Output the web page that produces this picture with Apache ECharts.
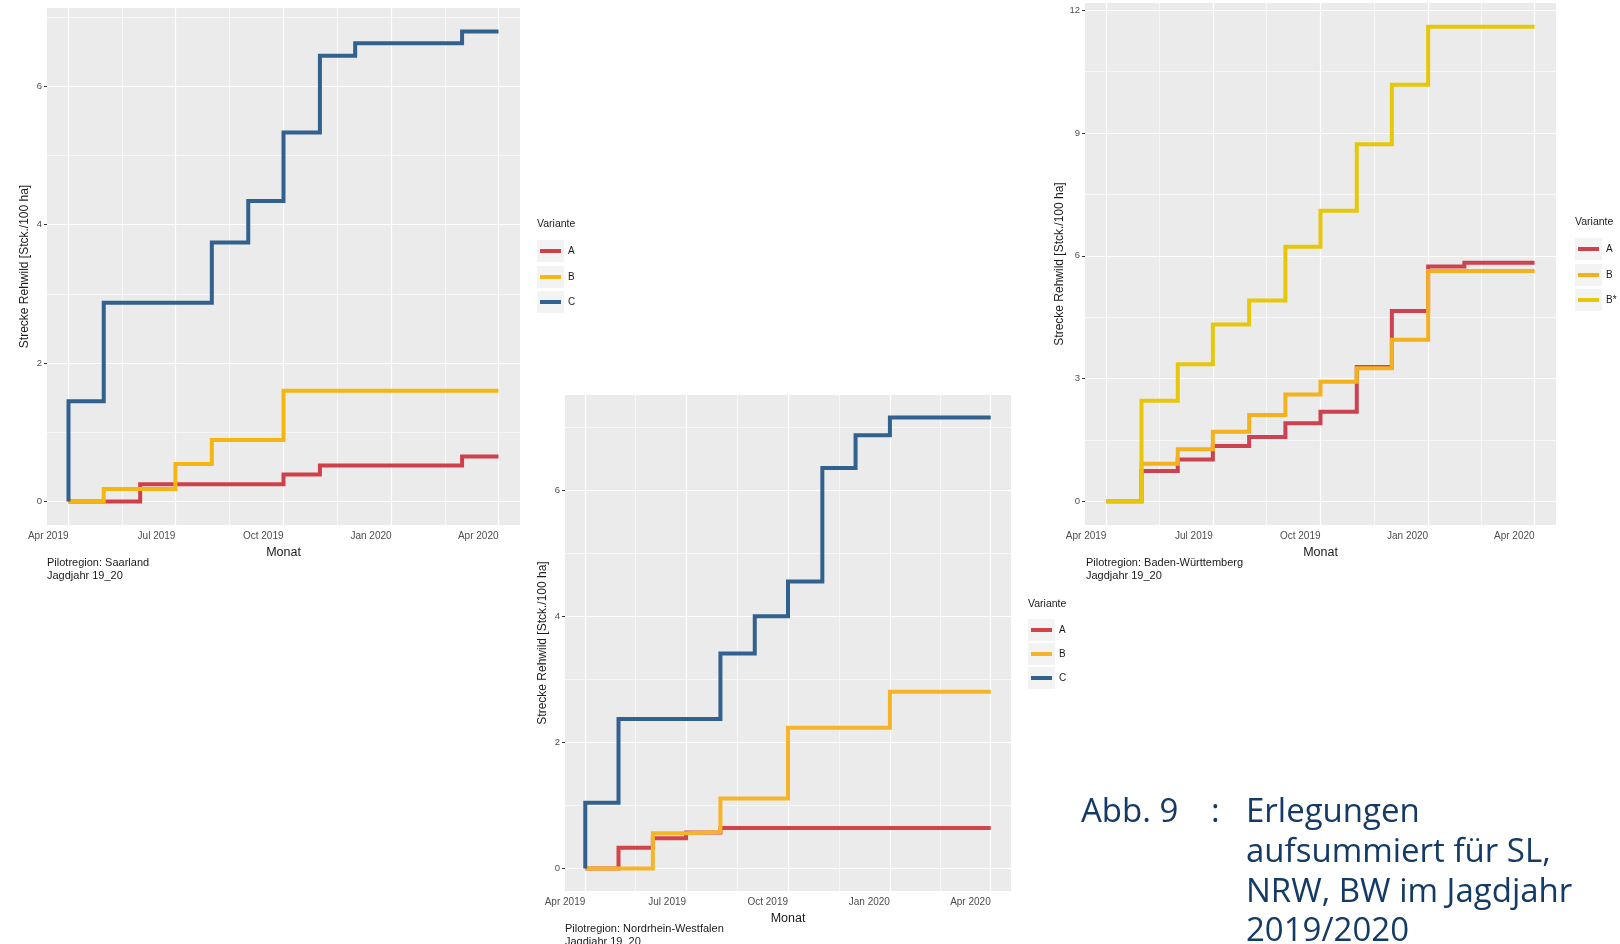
<!DOCTYPE html>
<html><head><meta charset="utf-8">
<script src="https://cdn.jsdelivr.net/npm/echarts@6/dist/echarts.min.js"></script>
<style>html,body{margin:0;padding:0;background:#fff}#c{width:1620px;height:944px}</style>
</head><body><div id="c"></div>
<script>
// ---- data ----
const stepDates = ['2019-04-01','2019-04-01','2019-05-01','2019-06-01','2019-07-01','2019-08-01','2019-09-01','2019-10-01','2019-11-01','2019-12-01','2020-01-01','2020-02-01','2020-03-01','2020-04-01'];

const slA = [0,0,0,0.25,0.25,0.25,0.25,0.39,0.52,0.52,0.52,0.52,0.65,0.65];
const slB = [0,0,0.18,0.18,0.54,0.89,0.89,1.60,1.60,1.60,1.60,1.60,1.60,1.60];
const slC = [0,1.45,2.87,2.87,2.87,3.74,4.34,5.33,6.44,6.62,6.62,6.62,6.79,6.79];

const nrwA = [0,0,0.33,0.48,0.57,0.64,0.64,0.64,0.64,0.64,0.64,0.64,0.64,0.64];
const nrwB = [0,0,0,0.56,0.58,1.11,1.11,2.23,2.23,2.23,2.80,2.80,2.80,2.80];
const nrwC = [0,1.04,2.37,2.37,2.37,3.41,4.00,4.55,6.35,6.87,7.15,7.15,7.15,7.15];

const bwA = [0,0,0.74,1.02,1.35,1.57,1.91,2.19,3.28,4.65,5.74,5.83,5.83,5.83];
const bwB = [0,0,0.92,1.27,1.70,2.11,2.61,2.92,3.25,3.95,5.63,5.63,5.63,5.63];
const bwBstar = [0,0,2.46,3.35,4.32,4.91,6.22,7.10,8.73,10.18,11.60,11.60,11.60,11.60];

const xTickDates = ['2019-04-01','2019-07-01','2019-10-01','2020-01-01','2020-04-01'];
const xTickLabels = ['Apr 2019','Jul 2019','Oct 2019','Jan 2020','Apr 2020'];
const yTicksSL = [0,2,4,6];
const yMinorSL = [1,3,5,7];
const yTicksNRW = [0,2,4,6];
const yMinorNRW = [1,3,5,7];
const yTicksBW = [0,3,6,9,12];
const yMinorBW = [1.5,4.5,7.5,10.5];

const variantsSL = ['A','B','C'];
const variantsNRW = ['A','B','C'];
const variantsBW = ['A','B','B*'];
const colorsSL = ['#d0404a','#f5b70f','#33618e'];
const colorsNRW = ['#d14449','#f6b528','#33618e'];
const colorsBW = ['#cc4250','#f4b11f','#e6c70a'];

const captionsSL = ['Pilotregion: Saarland','Jagdjahr 19_20'];
const captionsNRW = ['Pilotregion: Nordrhein-Westfalen','Jagdjahr 19_20'];
const captionsBW = ['Pilotregion: Baden-Württemberg','Jagdjahr 19_20'];
const yTitle = 'Strecke Rehwild [Stck./100 ha]';
const xTitle = 'Monat';
const figLabel = 'Abb. 9';
const figText = ['Erlegungen','aufsummiert für SL,','NRW, BW im Jagdjahr','2019/2020'];

// ---- helpers ----
function ts(s){const p=s.split('-').map(Number);return Date.UTC(p[0],p[1]-1,p[2]);}
const stepTs = stepDates.map(ts);
const xTickTs = xTickDates.map(ts);
const xMinorTs = xTickTs.slice(1).map((v,i)=>(v+xTickTs[i])/2);
const FONT = '"Liberation Sans", Arial, sans-serif';

const panels = [
  {grid:{left:47, top:8, width:473, height:517}, series:[slA,slB,slC], names:variantsSL, colors:colorsSL,
   yT:yTicksSL, yM:yMinorSL, yGap:16, legend:{x:537, ty:226, rows:[251,277,302]}, cap:{x:47,y:563,t:captionsSL}},
  {grid:{left:565, top:395, width:446, height:496}, series:[nrwA,nrwB,nrwC], names:variantsNRW, colors:colorsNRW,
   yT:yTicksNRW, yM:yMinorNRW, yGap:16, legend:{x:1028, ty:606, rows:[630,654,678]}, cap:{x:565,y:929,t:captionsNRW}},
  {grid:{left:1085, top:3, width:471, height:522}, series:[bwA,bwB,bwBstar], names:variantsBW, colors:colorsBW,
   yT:yTicksBW, yM:yMinorBW, yGap:18, legend:{x:1575, ty:224, rows:[249,275,300]}, cap:{x:1086,y:563,t:captionsBW}}
];

const grids=[], xAxes=[], yAxes=[], series=[], graphics=[];
panels.forEach((p,i)=>{
  grids.push(Object.assign({show:true, backgroundColor:'#ebebeb', borderWidth:0, containLabel:false}, p.grid));
  xAxes.push({
    type:'value', gridIndex:i,
    min:v=>v.min-0.05*(v.max-v.min), max:v=>v.max+0.05*(v.max-v.min),
    axisLine:{show:false}, splitLine:{show:false},
    axisTick:{show:true, customValues:xTickTs, length:3, lineStyle:{color:'#333', width:1}},
    axisLabel:{customValues:xTickTs, align:'right', margin:6, fontSize:10, color:'#4d4d4d', fontFamily:FONT,
      formatter:v=>{const k=xTickTs.indexOf(v);return k>=0?xTickLabels[k]:'';}},
    name:xTitle, nameLocation:'middle', nameGap:15,
    nameTextStyle:{fontSize:12.5, color:'#1a1a1a', fontFamily:FONT}
  });
  yAxes.push({
    type:'value', gridIndex:i,
    min:v=>v.min-0.05*(v.max-v.min), max:v=>v.max+0.05*(v.max-v.min),
    axisLine:{show:false}, splitLine:{show:false},
    axisTick:{show:true, customValues:p.yT, length:3, lineStyle:{color:'#333', width:1}},
    axisLabel:{customValues:p.yT, margin:5, fontSize:9.5, color:'#4d4d4d', fontFamily:FONT},
    name:yTitle, nameLocation:'middle', nameGap:p.yGap,
    nameTextStyle:{fontSize:12, color:'#1a1a1a', fontFamily:FONT}
  });
  const ml=[];
  xMinorTs.forEach(v=>ml.push({xAxis:v, lineStyle:{width:0.6}}));
  p.yM.forEach(v=>ml.push({yAxis:v, lineStyle:{width:0.6}}));
  xTickTs.forEach(v=>ml.push({xAxis:v, lineStyle:{width:1.2}}));
  p.yT.forEach(v=>ml.push({yAxis:v, lineStyle:{width:1.2}}));
  series.push({type:'line', name:'_grid'+i, xAxisIndex:i, yAxisIndex:i, data:[], silent:true,
    markLine:{silent:true, z:1, symbol:['none','none'], label:{show:false}, animation:false,
      emphasis:{disabled:true}, lineStyle:{color:'#ffffff', type:'solid', width:1.2}, data:ml}});
  p.series.forEach((vals,k)=>{
    series.push({type:'line', name:p.names[k], xAxisIndex:i, yAxisIndex:i, step:'end', showSymbol:false, symbol:'none',
      z:2+k, lineStyle:{color:p.colors[k], width:4, join:'miter', cap:'butt'}, itemStyle:{color:p.colors[k]},
      data:vals.map((v,j)=>[stepTs[j], v]), animation:false, silent:true});
  });
  // legend
  const L=p.legend;
  graphics.push({type:'text', left:L.x, top:L.ty-7, style:{text:'Variante', fontSize:10.5, fill:'#1a1a1a', fontFamily:FONT}});
  L.rows.forEach((ry,k)=>{
    graphics.push({type:'rect', shape:{x:L.x, y:ry-11, width:27, height:22}, style:{fill:'#f3f3f3'}});
    graphics.push({type:'line', shape:{x1:L.x+3, y1:ry, x2:L.x+24, y2:ry}, style:{stroke:p.colors[k], lineWidth:4}});
    graphics.push({type:'text', x:L.x+31, y:ry, style:{text:p.names[k], fontSize:10, fill:'#1a1a1a', fontFamily:FONT, verticalAlign:'middle'}});
  });
  p.cap.t.forEach((t,k)=>{
    graphics.push({type:'text', x:p.cap.x, y:p.cap.y+k*12.5, style:{text:t, fontSize:11, fill:'#1a1a1a', fontFamily:FONT, verticalAlign:'middle'}});
  });
});
const CF = '"Open Sans", "Noto Sans", sans-serif';
graphics.push({type:'text', x:1081, y:813, style:{text:figLabel, fontSize:33, fill:'#143a66', fontFamily:CF, verticalAlign:'middle'}});
graphics.push({type:'text', x:1211, y:813, style:{text:':', fontSize:33, fill:'#143a66', fontFamily:CF, verticalAlign:'middle'}});
figText.forEach((t,k)=>graphics.push({type:'text', x:1246, y:813+k*39.6, style:{text:t, fontSize:33, fill:'#143a66', fontFamily:CF, verticalAlign:'middle'}}));

const chart = echarts.init(document.getElementById('c'), null, {renderer:'canvas'});
chart.setOption({animation:false, backgroundColor:'#ffffff', textStyle:{fontFamily:FONT},
  grid:grids, xAxis:xAxes, yAxis:yAxes, series:series, graphic:graphics});
</script></body></html>
